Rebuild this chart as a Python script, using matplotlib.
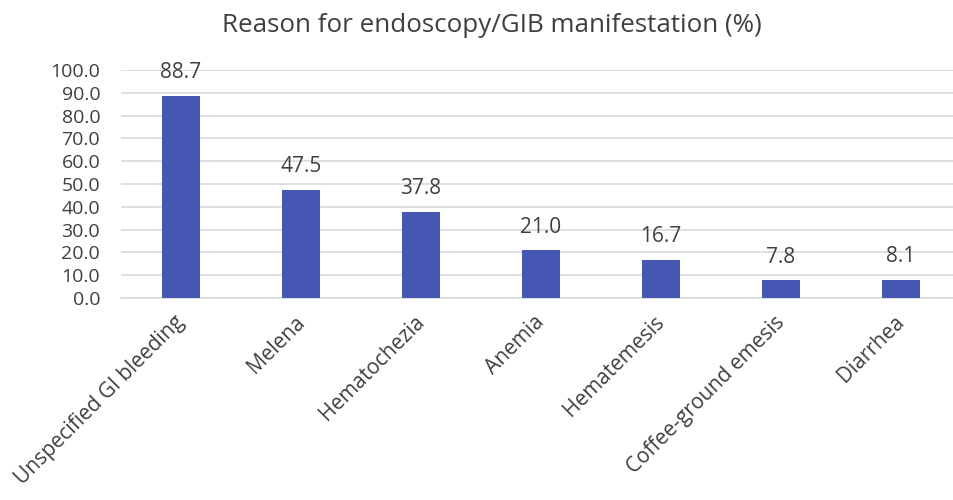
from matplotlib import pyplot as plt
from matplotlib.transforms import ScaledTranslation
import numpy as np

plt.rcParams['font.family'] = ['Open Sans', 'DejaVu Sans']

categories = ['Unspecified GI bleeding', 'Melena', 'Hematochezia', 'Anemia',
              'Hematemesis', 'Coffee-ground emesis', 'Diarrhea']
percent = [88.7, 47.5, 37.8, 21.0, 16.7, 7.8, 8.1]
yticks = np.arange(0, 101, 10)

text_color = '#3F3F3F'
bar_color = '#4757B4'
grid_color = '#D9D9D9'

fig = plt.figure(figsize=(9.54, 5.0), dpi=100)
# plot area runs a little past the right edge, like the original
ax = fig.add_axes([121/954, 1 - 298/500, 840/954, 228/500])

x = np.arange(len(categories))
bars = ax.bar(x, percent, width=0.31, color=bar_color, zorder=3)

for rect, val in zip(bars, percent):
    ax.annotate(f'{val:.1f}', (rect.get_x() + rect.get_width()/2, rect.get_height()),
                xytext=(0, 9), textcoords='offset points', ha='center', va='bottom',
                fontsize=15, color=text_color)

ax.set_xlim(-0.5, len(categories) - 0.5)
ax.set_ylim(0, 100)
ax.set_yticks(yticks)
ax.set_yticklabels([f'{t:.1f}' for t in yticks])
ax.set_xticks(x)
ax.set_xticklabels(categories, rotation=45, ha='right', rotation_mode='anchor')

ax.tick_params(axis='y', length=0, labelsize=14, labelcolor=text_color, pad=15)
ax.tick_params(axis='x', length=0, labelsize=15, labelcolor=text_color, pad=10)

# nudge category labels a bit to the left
shift = ScaledTranslation(-5/72, 0, fig.dpi_scale_trans)
for lbl in ax.get_xticklabels():
    lbl.set_transform(lbl.get_transform() + shift)

ax.yaxis.grid(True, color=grid_color, linewidth=1.2, zorder=0)
for side in ['top', 'right', 'left']:
    ax.spines[side].set_visible(False)
ax.spines['bottom'].set_color(grid_color)
ax.spines['bottom'].set_linewidth(1.2)

fig.text(492/954, 1 - 25/500, 'Reason for endoscopy/GIB manifestation (%)',
         ha='center', va='center', fontsize=18.7, color=text_color)

fig.savefig('out.png', dpi=100)
